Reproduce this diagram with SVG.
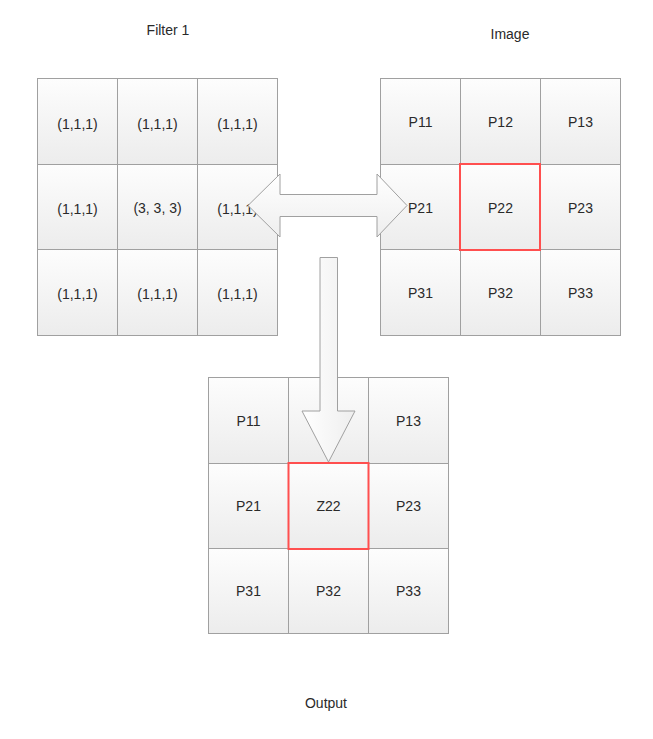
<svg xmlns="http://www.w3.org/2000/svg" width="653" height="739" viewBox="0 0 653 739">
<defs>
<linearGradient id="cellg" x1="0" y1="0" x2="0" y2="1">
<stop offset="0" stop-color="#fdfdfd"/>
<stop offset="1" stop-color="#ececec"/>
</linearGradient>
<linearGradient id="arrg" x1="0" y1="0" x2="0" y2="1">
<stop offset="0" stop-color="#ffffff"/>
<stop offset="1" stop-color="#eeeeee"/>
</linearGradient>
<linearGradient id="arrgh" x1="0" y1="0" x2="1" y2="0">
<stop offset="0" stop-color="#ffffff"/>
<stop offset="1" stop-color="#eeeeee"/>
</linearGradient>
</defs>
<style>
.cell{fill:url(#cellg);stroke:#a0a0a0;stroke-width:1}
.hl{fill:none;stroke:#ff4f4f;stroke-width:2}
text{font-family:"Liberation Sans",Arial,sans-serif;font-size:14px;fill:#2a2a2a;text-anchor:middle;dominant-baseline:central}
.arrow{stroke:#a0a0a0;stroke-width:1}
</style>
<rect width="653" height="739" fill="#ffffff"/>
<text x="168" y="30">Filter 1</text>
<text x="510" y="34">Image</text>
<text x="326" y="703">Output</text>
<g id="filter">
<g id="f11"><rect class="cell" x="37.5" y="78.5" width="80" height="86"/><text x="77.5" y="123.5">(1,1,1)</text></g>
<g id="f12"><rect class="cell" x="117.5" y="78.5" width="80" height="86"/><text x="157.5" y="123.5">(1,1,1)</text></g>
<g id="f13"><rect class="cell" x="197.5" y="78.5" width="80" height="86"/><text x="237.5" y="123.5">(1,1,1)</text></g>
<g id="f21"><rect class="cell" x="37.5" y="164.5" width="80" height="85"/><text x="77.5" y="209">(1,1,1)</text></g>
<g id="f22"><rect class="cell" x="117.5" y="164.5" width="80" height="86"/><text x="157.5" y="208">(3, 3, 3)</text></g>
<g id="f23"><rect class="cell" x="197.5" y="164.5" width="80" height="85"/><text x="237.5" y="209">(1,1,1)</text></g>
<g id="f31"><rect class="cell" x="37.5" y="249.5" width="80" height="86"/><text x="77.5" y="294">(1,1,1)</text></g>
<g id="f32"><rect class="cell" x="117.5" y="249.5" width="80" height="86"/><text x="157.5" y="294">(1,1,1)</text></g>
<g id="f33"><rect class="cell" x="197.5" y="249.5" width="80" height="86"/><text x="237.5" y="294">(1,1,1)</text></g>
</g>
<g id="image">
<g id="i11"><rect class="cell" x="380.5" y="78.5" width="80" height="86"/><text x="420.5" y="122">P11</text></g>
<g id="i12"><rect class="cell" x="460.5" y="78.5" width="80" height="86"/><text x="500.5" y="122">P12</text></g>
<g id="i13"><rect class="cell" x="540.5" y="78.5" width="80" height="86"/><text x="580.5" y="122">P13</text></g>
<g id="i21"><rect class="cell" x="380.5" y="164.5" width="80" height="85"/><text x="420.5" y="207.5">P21</text></g>
<g id="i22"><rect class="cell" x="460.5" y="164.5" width="80" height="85"/><text x="500.5" y="207.5">P22</text></g>
<g id="i23"><rect class="cell" x="540.5" y="164.5" width="80" height="85"/><text x="580.5" y="207.5">P23</text></g>
<g id="i31"><rect class="cell" x="380.5" y="249.5" width="80" height="86"/><text x="420.5" y="293">P31</text></g>
<g id="i32"><rect class="cell" x="460.5" y="249.5" width="80" height="86"/><text x="500.5" y="293">P32</text></g>
<g id="i33"><rect class="cell" x="540.5" y="249.5" width="80" height="86"/><text x="580.5" y="293">P33</text></g>
<rect class="hl" x="460" y="164" width="80" height="86"/>
</g>
<g id="output">
<g id="o11"><rect class="cell" x="208.5" y="377.5" width="80" height="86"/><text x="248.5" y="421">P11</text></g>
<g id="o12"><rect class="cell" x="288.5" y="377.5" width="80" height="86"/></g>
<g id="o13"><rect class="cell" x="368.5" y="377.5" width="80" height="86"/><text x="408.5" y="421">P13</text></g>
<g id="o21"><rect class="cell" x="208.5" y="463.5" width="80" height="85"/><text x="248.5" y="506">P21</text></g>
<g id="o22"><rect class="cell" x="288.5" y="463.5" width="80" height="85"/><text x="328.5" y="506">Z22</text></g>
<g id="o23"><rect class="cell" x="368.5" y="463.5" width="80" height="85"/><text x="408.5" y="506">P23</text></g>
<g id="o31"><rect class="cell" x="208.5" y="548.5" width="80" height="85"/><text x="248.5" y="591">P31</text></g>
<g id="o32"><rect class="cell" x="288.5" y="548.5" width="80" height="85"/><text x="328.5" y="591">P32</text></g>
<g id="o33"><rect class="cell" x="368.5" y="548.5" width="80" height="85"/><text x="408.5" y="591">P33</text></g>
<rect class="hl" x="288.5" y="463" width="80" height="86"/>
</g>
<g id="connectors">
<path class="arrow" fill="url(#arrg)" d="M248,205.5 L280,174 L280,194.5 L377,194.5 L377,174 L407,205.5 L377,237 L377,216.5 L280,216.5 L280,237 Z"/>
<path class="arrow" fill="url(#arrgh)" d="M320,257.5 L337.5,257.5 L337.5,411 L355,411 L328.5,462 L302,411 L320,411 Z"/>
</g>
</svg>
